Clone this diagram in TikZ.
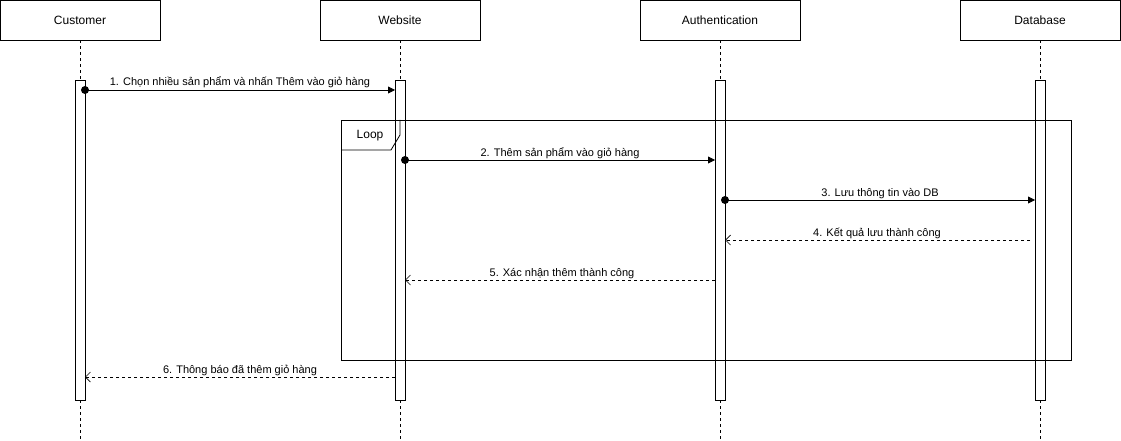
\documentclass[tikz,border=0pt]{standalone}
\usepackage{fontspec}
\setmainfont{Liberation Sans}
\usetikzlibrary{arrows.meta}
\begin{document}
\begin{tikzpicture}[x=1pt,y=-1pt,
  actor/.style={draw,line width=0.8pt,fill=white,minimum width=160pt,minimum height=40pt,inner sep=0pt,font=\fontsize{12}{14}\selectfont},
  actbar/.style={draw,line width=0.8pt,fill=white,minimum width=10pt,minimum height=320pt,inner sep=0pt},
  lifeline/.style={line width=0.8pt,dash pattern=on 3pt off 3pt},
  msg/.style={line width=0.8pt,-{Triangle[length=7pt,width=7pt]}},
  ret/.style={line width=0.8pt,dash pattern=on 3pt off 3pt,-{Straight Barb[length=5pt,width=10pt,line width=0.7pt]}},
  lbl/.style={font=\fontsize{11}{13}\selectfont,inner sep=0pt,anchor=base},
  frame/.style={line width=0.8pt}]
\useasboundingbox (0,0) rectangle (1121,441);

% actors
\node[actor] (cust) at (80,20) {Customer};
\node[actor] (web) at (400,20) {Website};
\node[actor] (auth) at (720,20) {Authentication};
\node[actor] (db) at (1040,20) {Database};

% lifeline ends
\coordinate (custend) at (80,441);
\coordinate (webend) at (400,441);
\coordinate (authend) at (720,441);
\coordinate (dbend) at (1040,441);
\draw[lifeline] (cust.south) -- (custend);
\draw[lifeline] (web.south) -- (webend);
\draw[lifeline] (auth.south) -- (authend);
\draw[lifeline] (db.south) -- (dbend);

% activation bars
\node[actbar] (custbar) at (80,240) {};
\node[actbar] (webbar) at (400,240) {};
\node[actbar] (authbar) at (720,240) {};
\node[actbar] (dbbar) at (1040,240) {};

% loop frame
\coordinate (loopa) at (341,120);
\coordinate (loopb) at (1071,360);
\draw[frame] (loopa) rectangle (loopb);
\draw[frame] (341,150) -- (391,150) -- (400,135) -- (400,120);
\node[font=\fontsize{12}{14}\selectfont,inner sep=0pt] (looplbl) at (370,135.5) {Loop};

% message endpoints
\coordinate (m1s) at (85,90);  \coordinate (m1e) at (395,90);
\coordinate (m2s) at (405,160); \coordinate (m2e) at (715,160);
\coordinate (m3s) at (725,200); \coordinate (m3e) at (1035,200);
\coordinate (m4s) at (1030,240); \coordinate (m4e) at (725,240);
\coordinate (m5s) at (715,280); \coordinate (m5e) at (405,280);
\coordinate (m6s) at (395,377); \coordinate (m6e) at (85,377);

\draw[msg] (m1s) -- (m1e);
\draw[msg] (m2s) -- (m2e);
\draw[msg] (m3s) -- (m3e);
\fill (m1s) circle (4);
\fill (m2s) circle (4);
\fill (m3s) circle (4);
\draw[ret] (m4s) -- (m4e);
\draw[ret] (m5s) -- (m5e);
\draw[ret] (m6s) -- (m6e);

\node[lbl] (l1) at (240,86) {1. Chọn nhiều sản phẩm và nhấn Thêm vào giỏ hàng};
\node[lbl] (l2) at (560,156) {2. Thêm sản phẩm vào giỏ hàng};
\node[lbl] (l3) at (880,196) {3. Lưu thông tin vào DB};
\node[lbl] (l4) at (877,236) {4. Kết quả lưu thành công};
\node[lbl] (l5) at (562,276) {5. Xác nhận thêm thành công};
\node[lbl] (l6) at (240,373) {6. Thông báo đã thêm giỏ hàng};
\end{tikzpicture}
\end{document}
